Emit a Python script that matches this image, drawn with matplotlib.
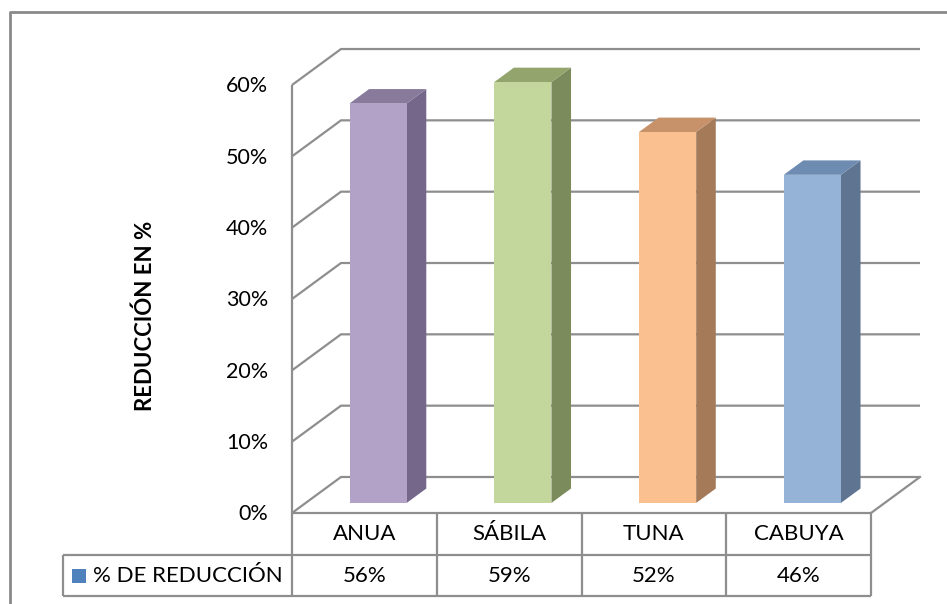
import matplotlib
matplotlib.use("Agg")
import matplotlib.pyplot as plt
from matplotlib.patches import Polygon, Rectangle

# data
categories = ["ANUA", "SÁBILA", "TUNA", "CABUYA"]
values = [56, 59, 52, 46]
value_labels = ["56%", "59%", "52%", "46%"]
series_name = "% DE REDUCCIÓN"
y_ticks = [0, 10, 20, 30, 40, 50, 60]
y_label = "REDUCCIÓN EN %"

# colours: front, top, side
cols = [
    ("#B3A2C7", "#877A9B", "#74678A"),
    ("#C3D69B", "#93A56D", "#7C8B5B"),
    ("#FAC090", "#C79169", "#A47A58"),
    ("#95B3D7", "#6E8CB2", "#5F7491"),
]
grid_col = "#8E8E8E"
font = ["Lato", "DejaVu Sans"]

# layout (pixels)
W, H = 947, 604
X0, CW = 292, 144.75      # front-left axis x, px per category
Y0, PPU = 513, 7.133      # 0% line y (from top), px per percent
DX, DY = 49, 36           # depth offset of back wall
ddx, ddy = DX / CW, DY / PPU
d0, d1 = 0.28, 0.68       # bar depth range
bw = 0.395                # bar width in category units

fig = plt.figure(figsize=(W / 100, H / 100), dpi=100)
ax = fig.add_axes([0, 0, 1, 1])
ax.set_xlim(-X0 / CW, (W - X0) / CW)
ax.set_ylim(-(H - Y0) / PPU, Y0 / PPU)
ax.axis("off")

def P(x, v, d):
    return (x + d * ddx, v + d * ddy)

ncat = len(categories)
lw = 1.6

# walls / gridlines
for t in y_ticks:
    a, b = P(0, t, 0), P(0, t, 1)
    c = P(ncat, t, 1)
    ax.plot([a[0], b[0], c[0]], [a[1], b[1], c[1]], color=grid_col, lw=lw, zorder=1,
            solid_capstyle="butt")
    ax.text((268 - X0) / CW, t - 0.2, f"{t}%", ha="right", va="center", fontsize=15.5,
            family=font)
# floor right edge
a, b = P(ncat, 0, 1), P(ncat, 0, 0)
ax.plot([a[0], b[0]], [a[1], b[1]], color=grid_col, lw=lw, zorder=1)

# bars
for i, v in enumerate(values):
    fc, tc, sc = cols[i]
    xl = i + 0.5 - bw / 2
    xr = i + 0.5 + bw / 2
    front = [P(xl, 0, d0), P(xr, 0, d0), P(xr, v, d0), P(xl, v, d0)]
    top = [P(xl, v, d0), P(xr, v, d0), P(xr, v, d1), P(xl, v, d1)]
    side = [P(xr, 0, d0), P(xr, v, d0), P(xr, v, d1), P(xr, 0, d1)]
    ax.add_patch(Polygon(side, closed=True, fc=sc, ec="none", zorder=3))
    ax.add_patch(Polygon(top, closed=True, fc=tc, ec="none", zorder=3))
    ax.add_patch(Polygon(front, closed=True, fc=fc, ec="none", zorder=4))

# data table
r1 = -42 / PPU
r2 = -83 / PPU
leg_x = (63 - X0) / CW
tkw = dict(color=grid_col, lw=lw, zorder=2, solid_capstyle="butt")
ax.plot([0, ncat], [0, 0], **tkw)
ax.plot([leg_x, ncat], [r1, r1], **tkw)
ax.plot([leg_x, ncat], [r2, r2], **tkw)
ax.plot([0, 0], [60, r2], **tkw)
ax.plot([leg_x, leg_x], [r1, r2], **tkw)
for i in range(1, ncat + 1):
    ax.plot([i, i], [0, r2], **tkw)
for i, (c, lab) in enumerate(zip(categories, value_labels)):
    ax.text(i + 0.5, r1 / 2, c, ha="center", va="center", fontsize=16, family=font)
    ax.text(i + 0.5, (r1 + r2) / 2, lab, ha="center", va="center", fontsize=16,
            family=font)
sq = 14 / CW
ax.add_patch(Rectangle(((72 - X0) / CW, (r1 + r2) / 2 - 7 / PPU), sq, 14 / PPU,
                       fc="#4F81BD", ec="none", zorder=3))
ax.text((93 - X0) / CW, (r1 + r2) / 2, series_name, ha="left", va="center",
        fontsize=16, family=font)

# axis title
ax.text((145 - X0) / CW, (Y0 - 316) / PPU, y_label, rotation=90, ha="center",
        va="center", fontsize=16, fontweight="bold", family=font)

# outer frame
fx, fy = 10 / W, 1 - 12 / H
ax.plot([fx, fx, 1.01], [-0.01, fy, fy], transform=ax.transAxes, color="#8A8A8A",
        lw=2, clip_on=False)

fig.savefig("out.png", dpi=100)
